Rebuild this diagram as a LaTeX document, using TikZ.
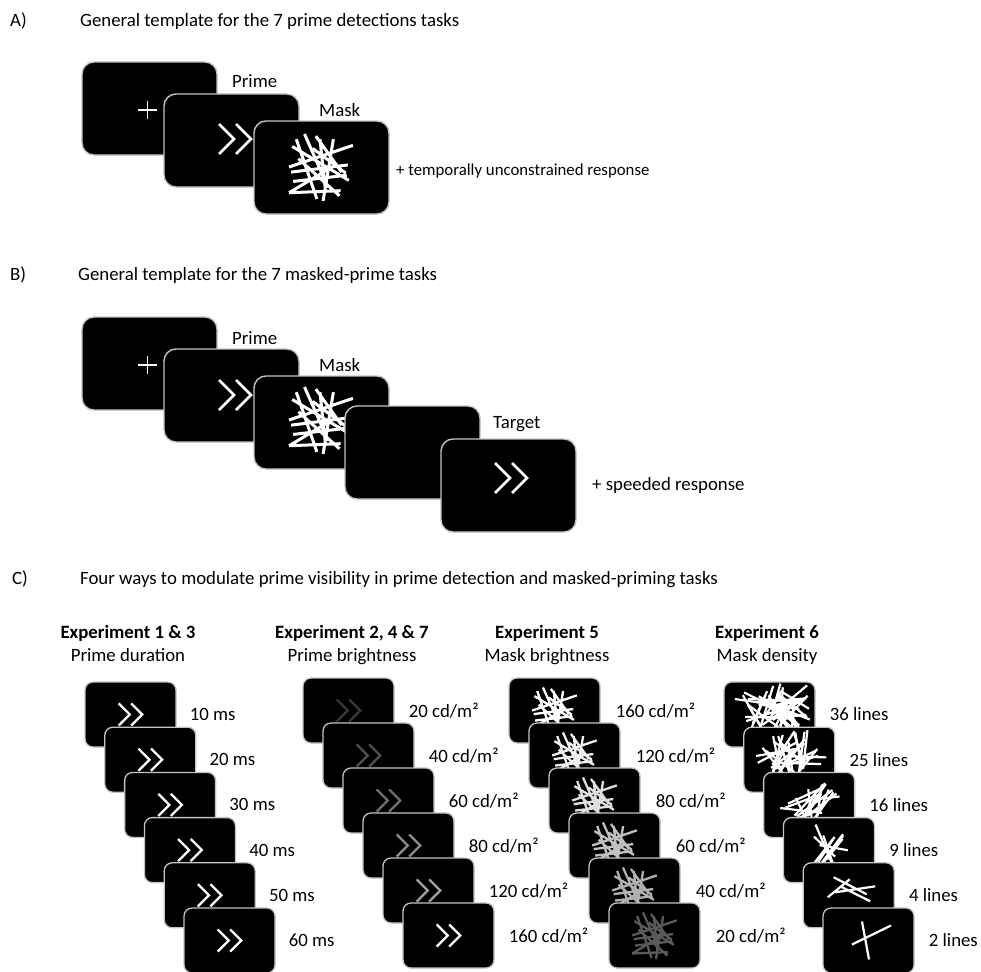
\documentclass[tikz,border=0pt]{standalone}
\usepackage{fontspec}
\setmainfont{Carlito}
\definecolor{scrborder}{HTML}{C4C4C4}
\definecolor{cA}{HTML}{383838}
\definecolor{cB}{HTML}{505050}
\definecolor{cC}{HTML}{707070}
\definecolor{cD}{HTML}{8C8C8C}
\definecolor{cE}{HTML}{A0A0A0}
\definecolor{mB}{HTML}{F0F0F0}
\definecolor{mC}{HTML}{E0E0E0}
\definecolor{mD}{HTML}{C0C0C0}
\definecolor{mE}{HTML}{B0B0B0}
\definecolor{mF}{HTML}{5A5A5A}
\newcommand\mychev[4]{%
  \begin{scope}[shift={(#1)},scale=#2]
    \draw[#3,line width=#4,line join=miter] (-16,-15)--(-1,0)--(-16,15) (1,-15)--(16,0)--(1,15);
  \end{scope}}
\newcommand\mymask[4]{%
  \begin{scope}[shift={(#1)},scale=#2]
    \draw[#3,line width=#4]
      (-16,-32)--(7,20) (-24,-27)--(-4,31) (-1,-27)--(4,20) (12,-27)--(2,33)
      (-31,0)--(31,-21) (-29,5)--(26,-2) (-31,25)--(19,23) (-31,25)--(9,1)
      (-28,-20)--(27,13) (-22,-8)--(18,28) (-27,14)--(25,8) (-8,-18)--(24,6)
      (-5,-30)--(20,5);
  \end{scope}}
% node, seed, n, rx, ry, len, lw, dx, dy
\newcommand\myrmask[9]{%
  \begin{scope}
    \clip[rounded corners=8pt] (#1.south west) rectangle (#1.north east);
    \begin{scope}[shift={(#1.center)},shift={(#8,#9)}]
    \pgfmathsetseed{#2}
    \foreach \j in {1,...,#3}{
      \pgfmathsetmacro\mx{rand*#4}
      \pgfmathsetmacro\my{rand*#5}
      \pgfmathsetmacro\ang{rnd*180}
      \pgfmathsetmacro\hl{#6*(0.35+0.2*rnd)}
      \draw[white,line width=#7] ({\mx+\hl*cos(\ang)},{\my+\hl*sin(\ang)}) -- ({\mx-\hl*cos(\ang)},{\my-\hl*sin(\ang)});
    }
    \end{scope}
  \end{scope}}
\begin{document}
\begin{tikzpicture}[x=1pt,y=-1pt,
  big/.style={draw=scrborder,line width=1.4pt,fill=black,rounded corners=12pt,minimum width=135pt,minimum height=93pt,inner sep=0pt},
  small/.style={draw=scrborder,line width=1.3pt,fill=black,rounded corners=8pt,minimum width=91pt,minimum height=65pt,inner sep=0pt},
  txt/.style={font=\fontsize{18.8}{22}\selectfont,inner sep=0pt,anchor=base west},
  lab/.style={font=\fontsize{18.8}{22}\selectfont,inner sep=0pt,anchor=west},
  hd/.style={font=\fontsize{18.8}{22}\selectfont\bfseries,inner sep=0pt,anchor=base},
  hs/.style={font=\fontsize{18.8}{22}\selectfont,inner sep=0pt,anchor=base}]
\useasboundingbox[fill=white] (0,0) rectangle (981,971);

% ---------- A ----------
\node[txt] (tA) at (10,27) {A)};
\node[txt] (tA2) at (80,27) {General template for the 7 prime detections tasks};
\node[big] (a1) at (149.5,108.5) {};
\draw[white,line width=1.8pt] (138,110)--(157,110) (147.5,101)--(147.5,119);
\node[big] (a2) at (231.5,140.5) {};
\mychev{235,139}{1}{white}{2.5pt}
\node[big] (a3) at (321.5,167.5) {};
\mymask{321,167}{1.03}{white}{3pt}
\node[txt] (lA1) at (232,88) {Prime};
\node[txt] (lA2) at (319,117) {Mask};
\node[txt,font=\fontsize{16.8}{20}\selectfont] (lA3) at (396,175) {+ temporally unconstrained response};

% ---------- B ----------
\node[txt] (tB) at (10,280) {B)};
\node[txt] (tB2) at (78,280) {General template for the 7 masked-prime tasks};
\node[big] (b1) at (149.5,363.5) {};
\draw[white,line width=1.8pt] (138,365)--(157,365) (147.5,356)--(147.5,374);
\node[big] (b2) at (231.5,395.5) {};
\mychev{235,395}{1}{white}{2.5pt}
\node[big] (b3) at (321.5,422.5) {};
\mymask{321,420}{1.03}{white}{3pt}
\node[big] (b4) at (412.5,452.5) {};
\node[big] (b5) at (508.5,485.5) {};
\mychev{511,478}{1}{white}{2.5pt}
\node[txt] (lB1) at (232,344) {Prime};
\node[txt] (lB2) at (319,371) {Mask};
\node[txt] (lB3) at (493,428) {Target};
\node[txt] (lB4) at (592,490) {+ speeded response};

% ---------- C ----------
\node[txt] (tC) at (12,584) {C)};
\node[txt] (tC2) at (80,584) {Four ways to modulate prime visibility in prime detection and masked-priming tasks};

\node[hd] (h1) at (128,638) {Experiment 1 \& 3};
\node[hs] (h1b) at (128,661) {Prime duration};
\node[hd] (h2) at (352,638) {Experiment 2, 4 \& 7};
\node[hs] (h2b) at (352,661) {Prime brightness};
\node[hd] (h3) at (547,638) {Experiment 5};
\node[hs] (h3b) at (547,661) {Mask brightness};
\node[hd] (h4) at (767,638) {Experiment 6};
\node[hs] (h4b) at (767,661) {Mask density};

% column 1
\foreach \k/\t in {0/10,1/20,2/30,3/40,4/50,5/60}{
  \node[small] (d\k) at ({130.5+19.8*\k},{714.5+45.2*\k}) {};
  \mychev{d\k.center}{0.74}{white}{2.3pt}
  \node[lab] (dl\k) at ([xshift=13pt]d\k.east) {\t\ ms};
}
% column 2
\foreach \k/\t/\c in {0/20/cA,1/40/cB,2/60/cC,3/80/cD,4/120/cE,5/160/white}{
  \node[small] (p\k) at ({348.5+20*\k},{710.5+45*\k}) {};
  \mychev{p\k.center}{0.74}{\c}{2.3pt}
  \node[lab] (pl\k) at ([xshift=14pt]p\k.east) {\t\ cd/m²};
}
% column 3
\foreach \k/\t/\c in {0/160/white,1/120/mB,2/80/mC,3/60/mD,4/40/mE,5/20/mF}{
  \node[small] (q\k) at ({554.5+20*\k},{710.5+45*\k}) {};
  \mymask{q\k.center}{0.72}{\c}{2.3pt}
  \node[lab] (ql\k) at ([xshift=15pt]q\k.east) {\t\ cd/m²};
}
% column 4
\node[small] (r0) at (769.5,714.5) {};
\myrmask{r0}{11}{36}{22}{12}{46}{2.2pt}{4}{-3}
\node[small] (r1) at (789.3,759.7) {};
\myrmask{r1}{23}{25}{16}{10}{42}{2.2pt}{2}{-2}
\node[small] (r2) at (809.1,804.9) {};
\myrmask{r2}{37}{16}{14}{11}{42}{2.2pt}{0}{0}
\node[small] (r3) at (828.9,850.1) {};
\myrmask{r3}{5}{9}{10}{8}{40}{2.2pt}{0}{-2}
\node[small] (r4) at (848.7,895.3) {};
\begin{scope}[shift={(r4.center)}]
  \draw[white,line width=2.2pt] (-15,-18)--(18,-1) (-21,2)--(1,-16) (-13.5,-3)--(26.5,-9) (-8.5,-9)--(21.5,6);
\end{scope}
\node[small] (r5) at (868.5,940.5) {};
\begin{scope}[shift={(r5.center)}]
  \draw[white,line width=2.2pt] (-6.5,-19)--(0.5,19) (-16.5,4)--(22.5,-15);
\end{scope}
\foreach \k/\t in {0/36,1/25,2/16,3/9,4/4,5/2}{
  \node[lab] (rl\k) at ([xshift=14pt]r\k.east) {\t\ lines};
}
\end{tikzpicture}
\end{document}
